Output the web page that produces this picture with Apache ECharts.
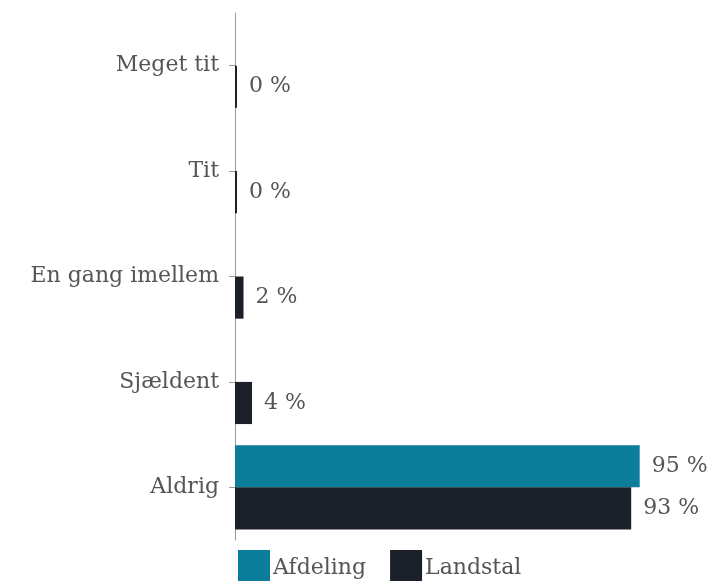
<!DOCTYPE html>
<html>
<head>
<meta charset="utf-8">
<script src="https://cdn.jsdelivr.net/npm/echarts@6/dist/echarts.min.js"></script>
<style>
  html, body { margin: 0; padding: 0; background: #fff; }
  #chart { width: 715px; height: 581px; }
</style>
</head>
<body>
<div id="chart"></div>
<script>
  const categories = ['Meget tit', 'Tit', 'En gang imellem', 'Sjældent', 'Aldrig'];
  const afdeling = [null, null, null, null, 95];
  const landstal = [0, 0, 2, 4, 93];

  const font = 'DejaVu Serif';
  const textColor = '#555';

  const chart = echarts.init(document.getElementById('chart'));

  function pct(p) {
    return Math.round(p.value) + ' %';
  }

  chart.setOption({
    animation: false,
    grid: { left: 235, right: 54, top: 13, bottom: 41, containLabel: false },
    legend: {
      left: 233,
      top: 545,
      itemWidth: 32,
      itemHeight: 36,
      itemGap: 24,
      icon: 'rect',
      textStyle: { fontFamily: font, fontSize: 22, color: textColor, padding: [0, 0, 0, -2] },
      data: ['Afdeling', 'Landstal'],
    },
    xAxis: {
      type: 'value',
      min: 0,
      max: 100,
      show: false,
    },
    yAxis: {
      type: 'category',
      inverse: true,
      data: categories,
      axisLine: { lineStyle: { color: '#999', width: 1 } },
      axisTick: { show: true, alignWithLabel: true, length: 6, lineStyle: { color: '#999' } },
      axisLabel: { fontFamily: font, fontSize: 22, color: textColor, margin: 16 },
    },
    series: [
      {
        name: 'Afdeling',
        type: 'bar',
        data: afdeling,
        barGap: 0,
        barCategoryGap: '20%',
        itemStyle: { color: '#0a7e9b' },
        label: { show: true, position: 'right', distance: 12, formatter: pct, fontFamily: font, fontSize: 22, color: textColor },
      },
      {
        name: 'Landstal',
        type: 'bar',
        data: landstal,
        barGap: 0,
        barCategoryGap: '20%',
        barMinHeight: 2,
        itemStyle: { color: '#1b2029' },
        label: { show: true, position: 'right', distance: 12, formatter: pct, fontFamily: font, fontSize: 22, color: textColor },
      },
    ],
  });
</script>
</body>
</html>
